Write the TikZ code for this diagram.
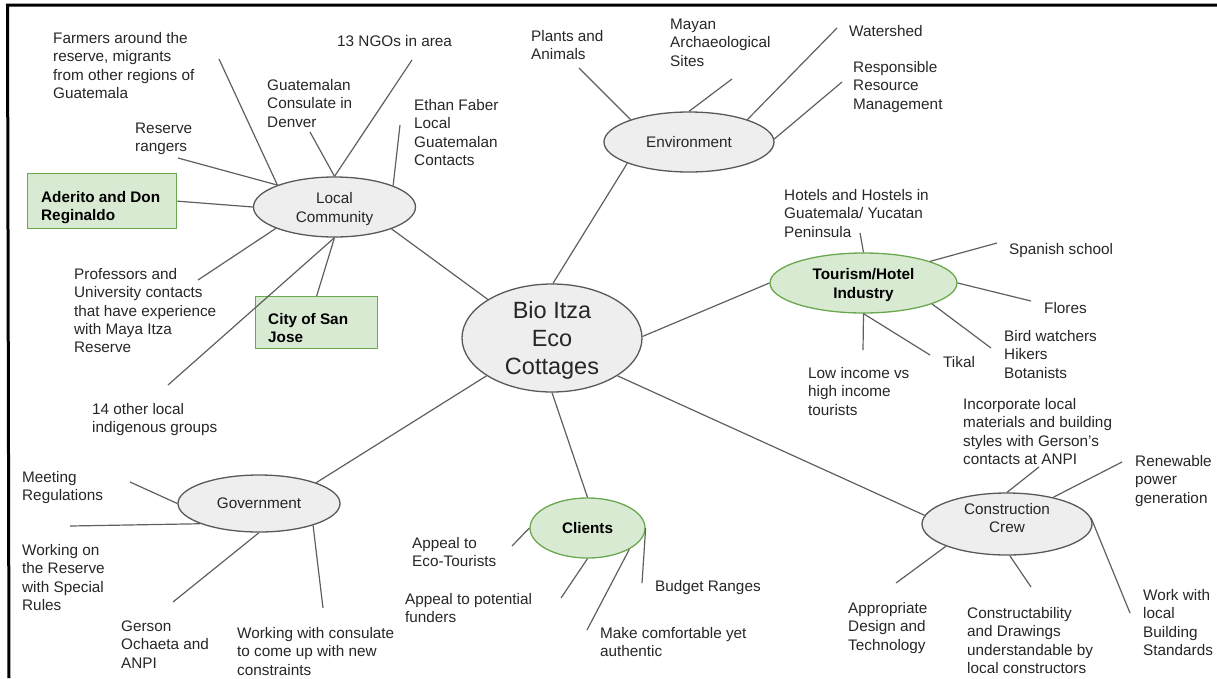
\documentclass[tikz,border=0pt]{standalone}
\usepackage{fontspec}
\setmainfont{Liberation Sans}
\usetikzlibrary{shapes.geometric}
\definecolor{txt}{HTML}{262626}
\definecolor{ln}{HTML}{5F5F5F}
\definecolor{ellfill}{HTML}{EEEEEE}
\definecolor{elldraw}{HTML}{595959}
\definecolor{gfill}{HTML}{D9EAD3}
\definecolor{gdraw}{HTML}{6AA84F}
\newcommand{\lblfont}{\fontsize{15.3}{18.4}\selectfont}
\newcommand{\tops}{\rule{0pt}{11pt}}
\begin{document}
\begin{tikzpicture}[x=1pt,y=-1pt,
  ell/.style={ellipse, draw=elldraw, fill=ellfill, line width=1.3pt, inner sep=0pt, align=center, font=\lblfont, text=txt},
  gell/.style={ell, draw=gdraw, fill=gfill, font=\lblfont\bfseries, text=black},
  gbox/.style={rectangle, draw=gdraw, fill=gfill, line width=1.3pt, inner sep=0pt, anchor=north west},
  lab/.style={anchor=north west, inner sep=0pt, align=left, font=\lblfont, text=txt},
  blab/.style={lab, font=\lblfont\bfseries, text=black},
  con/.style={draw=ln, line width=1.2pt},
  frame/.style={draw=black, line width=3pt}]
\useasboundingbox (0,0) rectangle (1217,678);
% frame
\coordinate (fa) at (7.5,5);
\coordinate (fb) at (1217,5);
\coordinate (fc) at (9,678);
\draw[frame] (fb) -- (fa) -- (fc);

% main nodes
\node[ell, minimum width=180pt, minimum height=108pt, inner sep=-22pt, font=\fontsize{23.5}{28}\selectfont] (c) at (552,338) {\rule{0pt}{21pt}Bio Itza\\Eco\\Cottages};
\node[ell, minimum width=162pt, minimum height=60pt] (lc) at (334.5,207) {\rule{0pt}{15.5pt}Local\\Community};
\node[ell, minimum width=170pt, minimum height=60pt] (env) at (689,142) {Environment};
\node[gell, minimum width=187pt, minimum height=60pt] (tour) at (863.5,283) {\rule{0pt}{15pt}Tourism/Hotel\\Industry};
\node[ell, minimum width=162pt, minimum height=57pt] (gov) at (259,503.5) {Government};
\node[gell, minimum width=115pt, minimum height=60pt] (cli) at (587.5,528) {Clients};
\node[ell, minimum width=170pt, minimum height=62pt] (cc) at (1007,524) {Construction\\Crew\rule[-12pt]{0pt}{12pt}};

% green boxes
\node[gbox, minimum width=149pt, minimum height=55pt] (ad) at (27,173) {};
\node[blab] (adt) at (41,191) {\tops Aderito and Don\\Reginaldo};
\node[gbox, minimum width=122pt, minimum height=52pt] (sj) at (255,296) {};
\node[blab] (sjt) at (268,313) {\tops City of San\\Jose};

% centre connectors
\draw[con] (c.149) -- (lc.-21.5);
\draw[con] (c.89) -- (env.199);
\draw[con] (c.1) -- (tour.180);
\draw[con] (c.210.7) -- (gov.20.3);
\draw[con] (c.270) -- (cli.90);
\draw[con] (c.-30.3) -- (cc.174);

% Local community
\node[lab] (lcFt) at (53,32) {\tops Farmers around the\\reserve, migrants\\from other regions of\\Guatemala};
\node[lab] (lcNt) at (337,35) {\tops 13 NGOs in area};
\node[lab] (lcGt) at (267,79) {\tops Guatemalan\\Consulate in\\Denver};
\node[lab] (lcEt) at (414,99) {\tops Ethan Faber\\Local\\Guatemalan\\Contacts};
\node[lab] (lcRt) at (135,122) {\tops Reserve\\rangers};
\node[lab] (lcPt) at (74,268) {\tops Professors and\\University contacts\\that have experience\\with Maya Itza\\Reserve};
\node[lab] (lcIt) at (92,403) {\tops 14 other local\\indigenous groups};
\coordinate (lcF) at (219,59);
\coordinate (lcR) at (178,158);
\coordinate (lcG) at (310,132);
\coordinate (lcN) at (412,60);
\coordinate (lcE) at (400,125);
\coordinate (lcP) at (198,280);
\coordinate (lcI) at (168,385);
\draw[con] (lc.159) -- (lcF);
\draw[con] (lc.159.5) -- (lcR);
\draw[con] (lc.90) -- (lcG);
\draw[con] (lc.90) -- (lcN);
\draw[con] (lc.20.6) -- (lcE);
\draw[con] (lc.200) -- (lcP);
\draw[con] (lc.270) -- (lcI);
\draw[con] (ad.east) -- (lc.west);
\draw[con] (sj.north) -- (lc.south);

% Environment
\node[lab] (enPt) at (531,30) {\tops Plants and\\Animals};
\node[lab] (enMt) at (670,18) {\tops Mayan\\Archaeological\\Sites};
\node[lab] (enWt) at (849,25) {\tops Watershed};
\node[lab] (enRt) at (853,61) {\tops Responsible\\Resource\\Management};
\coordinate (enP) at (579,68);
\coordinate (enM) at (732,79);
\coordinate (enW) at (837,28);
\coordinate (enR) at (842,82);
\draw[con] (env.159) -- (enP);
\draw[con] (env.90) -- (enM);
\draw[con] (env.21) -- (enW);
\draw[con] (env.2) -- (enR);

% Tourism
\node[lab] (toHt) at (784,189) {\tops Hotels and Hostels in\\Guatemala/ Yucatan\\Peninsula};
\node[lab] (toSt) at (1009,243) {\tops Spanish school};
\node[lab] (toFt) at (1044,302) {\tops Flores};
\node[lab] (toBt) at (1004,330) {\tops Bird watchers\\Hikers\\Botanists};
\node[lab] (toTt) at (943,356) {\tops Tikal};
\node[lab] (toLt) at (808,367) {\tops Low income vs\\high income\\tourists};
\coordinate (toH) at (860,233);
\coordinate (toS) at (997,243);
\coordinate (toF) at (1031,301);
\coordinate (toB) at (991,348);
\coordinate (toT) at (930,355);
\coordinate (toL) at (863,350);
\draw[con] (tour.90) -- (toH);
\draw[con] (tour.18.3) -- (toS);
\draw[con] (tour.0) -- (toF);
\draw[con] (tour.-17.5) -- (toB);
\draw[con] (tour.270) -- (toT);
\draw[con] (tour.270) -- (toL);

% Government
\node[lab] (goMt) at (22,471) {\tops Meeting\\Regulations};
\node[lab] (goWt) at (22,544) {\tops Working on\\the Reserve\\with Special\\Rules};
\node[lab] (goGt) at (121,620) {\tops Gerson\\Ochaeta and\\ANPI};
\node[lab] (goCt) at (237,627) {\tops Working with consulate\\to come up with new\\constraints};
\coordinate (goM) at (130,482);
\coordinate (goW) at (70,526);
\coordinate (goG) at (173,602);
\coordinate (goC) at (323,608);
\draw[con] (gov.180) -- (goM);
\draw[con] (gov.199.8) -- (goW);
\draw[con] (gov.270) -- (goG);
\draw[con] (gov.-22) -- (goC);

% Clients
\node[lab] (clAt) at (412,537) {\tops Appeal to\\Eco-Tourists};
\node[lab] (clFt) at (405,593) {\tops Appeal to potential\\funders};
\node[lab] (clMt) at (600,627) {\tops Make comfortable yet\\authentic};
\node[lab] (clBt) at (655,580) {\tops Budget Ranges};
\coordinate (clA) at (512,546);
\coordinate (clF) at (561,598);
\coordinate (clM) at (587,630);
\coordinate (clB) at (642,583);
\draw[con] (cli.180) -- (clA);
\draw[con] (cli.270) -- (clF);
\draw[con] (cli.-27.4) -- (clM);
\draw[con] (cli.0) -- (clB);

% Construction crew
\node[lab] (ccIt) at (963,398) {\tops Incorporate local\\materials and building\\styles with Gerson’s\\contacts at ANPI};
\node[lab] (ccRt) at (1135,455) {\tops Renewable\\power\\generation};
\node[lab] (ccWt) at (1143,589) {\tops Work with\\local\\Building\\Standards};
\node[lab] (ccCt) at (967,607) {\tops Constructability\\and Drawings\\understandable by\\local constructors};
\node[lab] (ccAt) at (848,602) {\tops Appropriate\\Design and\\Technology};
\coordinate (ccI) at (1039,467);
\coordinate (ccR) at (1122,462);
\coordinate (ccW) at (1130,613);
\coordinate (ccC) at (1031,587);
\coordinate (ccA) at (896,583);
\draw[con] (cc.90) -- (ccI);
\draw[con] (cc.30) -- (ccR);
\draw[con] (cc.4.7) -- (ccW);
\draw[con] (cc.275) -- (ccC);
\draw[con] (cc.200) -- (ccA);
\end{tikzpicture}
\end{document}
